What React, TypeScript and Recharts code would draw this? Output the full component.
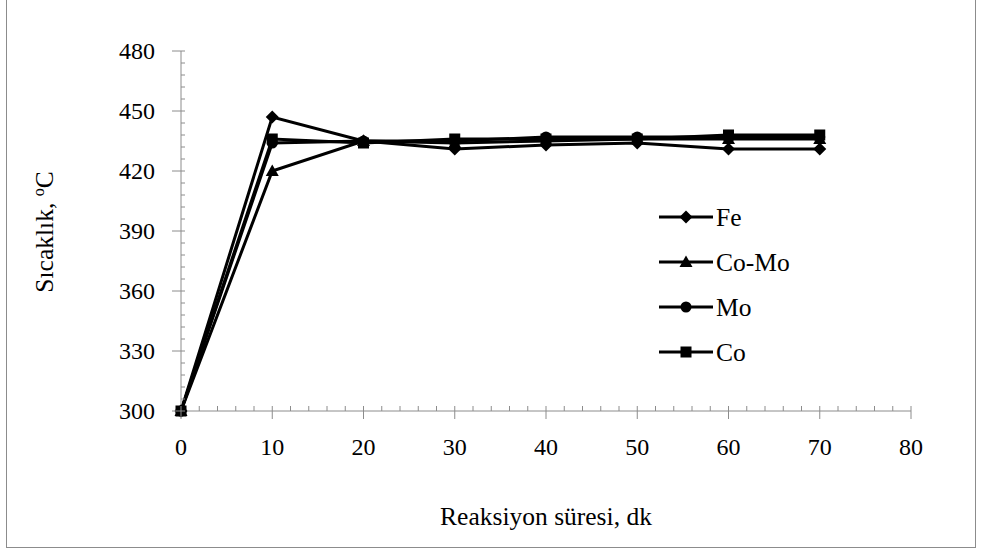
import React from 'react'
import { LineChart, Line, XAxis, YAxis } from 'recharts'

const minutes = [0, 10, 20, 30, 40, 50, 60, 70]
const fe = [300, 447, 435, 431, 433, 434, 431, 431]
const coMo = [300, 420, 435, 434, 435, 436, 436, 436]
const mo = [300, 434, 435, 435, 437, 437, 437, 437]
const co = [300, 436, 434, 436, 436, 436, 438, 438]

const xTicks = [0, 2, 4, 6, 8, 10, 12, 14, 16, 18, 20, 22, 24, 26, 28, 30, 32, 34, 36, 38, 40, 42, 44, 46, 48, 50, 52, 54, 56, 58, 60, 62, 64, 66, 68, 70, 72, 74, 76, 78, 80]
const yTicks = [300, 306, 312, 318, 324, 330, 336, 342, 348, 354, 360, 366, 372, 378, 384, 390, 396, 402, 408, 414, 420, 426, 432, 438, 444, 450, 456, 462, 468, 474, 480]

const data = minutes.map((m, i) => ({
  m,
  Fe: fe[i],
  'Co-Mo': coMo[i],
  Mo: mo[i],
  Co: co[i],
}))

const FONT = 'Liberation Serif, serif'
const FS = 24
const FS_TITLE = 25.5
const AXIS = '#8c8c8c'

const drawMarker = (name: string, cx: number, cy: number) => {
  if (name === 'Fe')
    return <path d={`M${cx},${cy - 6.5} L${cx + 6.5},${cy} L${cx},${cy + 6.5} L${cx - 6.5},${cy} Z`} fill='#000' />
  if (name === 'Co-Mo')
    return <path d={`M${cx},${cy - 6.5} L${cx + 6.5},${cy + 5} L${cx - 6.5},${cy + 5} Z`} fill='#000' />
  if (name === 'Mo') return <circle cx={cx} cy={cy} r={5.5} fill='#000' />
  return <rect x={cx - 5.5} y={cy - 5.5} width={11} height={11} fill='#000' />
}

const makeDot = (name: string) => (props: any) => {
  const { cx, cy, index } = props
  if (cx == null || cy == null) return <g key={`${name}-${index}`} />
  return <g key={`${name}-${index}`}>{drawMarker(name, cx, cy)}</g>
}

const XTick = (props: any) => {
  const { x, y, payload } = props
  const major = payload.value % 10 === 0
  return (
    <g>
      <line x1={x} x2={x} y1={y - 5} y2={major ? y + 8 : y} stroke={AXIS} strokeWidth={1} />
      {major && (
        <text x={x} y={y + 44} textAnchor='middle' fontFamily={FONT} fontSize={FS} fill='#000'>
          {payload.value}
        </text>
      )}
    </g>
  )
}

const YTick = (props: any) => {
  const { x, y, payload } = props
  const major = (payload.value - 300) % 30 === 0
  return (
    <g>
      <line x1={major ? x - 9 : x} x2={x + 4} y1={y} y2={y} stroke={AXIS} strokeWidth={1} />
      {major && (
        <text x={x - 26} y={y + 8} textAnchor='end' fontFamily={FONT} fontSize={FS} fill='#000'>
          {payload.value}
        </text>
      )}
    </g>
  )
}

const series = ['Fe', 'Co-Mo', 'Mo', 'Co']

const LegendBox = () => (
  <svg width={180} height={200} style={{ position: 'absolute', left: 657, top: 195, overflow: 'visible' }}>
    {series.map((s, i) => {
      const cy = 22 + i * 45
      return (
        <g key={s}>
          <line x1={2} x2={56} y1={cy} y2={cy} stroke='#000' strokeWidth={3} />
          {drawMarker(s, 29, cy)}
          <text x={59} y={cy + 8.5} fontFamily={FONT} fontSize={FS_TITLE} fill='#000'>
            {s}
          </text>
        </g>
      )
    })}
  </svg>
)

const App = () => {
  return (
    <div style={{ position: 'absolute', left: 0, top: 0, width: 985, height: 553, background: '#fff', fontFamily: FONT }}>
      <div
        style={{
          position: 'absolute',
          left: 6,
          top: -1,
          width: 970,
          height: 549,
          border: '1px solid #8c8c8c',
          boxSizing: 'border-box',
        }}
      />
      <div style={{ position: 'absolute', left: 0, top: 0 }}>
        <LineChart
          width={985}
          height={553}
          data={data}
          margin={{ top: 51, right: 74, bottom: 112, left: 121 }}
        >
          <XAxis
            dataKey='m'
            type='number'
            domain={[0, 80]}
            ticks={xTicks}
            interval={0}
            height={30}
            tickSize={0}
            tickMargin={0}
            tickLine={false}
            axisLine={{ stroke: AXIS, strokeWidth: 1 }}
            tick={<XTick />}
          />
          <YAxis
            type='number'
            domain={[300, 480]}
            ticks={yTicks}
            interval={0}
            width={60}
            tickSize={0}
            tickMargin={0}
            tickLine={false}
            axisLine={{ stroke: AXIS, strokeWidth: 1 }}
            tick={<YTick />}
          />
          {series.map((s) => (
            <Line
              key={s}
              dataKey={s}
              stroke='#000'
              strokeWidth={3}
              dot={makeDot(s)}
              activeDot={false}
              isAnimationActive={false}
              type='linear'
            />
          ))}
        </LineChart>
      </div>
      <LegendBox />
      <div
        style={{
          position: 'absolute',
          left: 45,
          top: 232,
          transform: 'translate(-50%, -50%) rotate(-90deg)',
          fontSize: FS_TITLE,
          whiteSpace: 'nowrap',
        }}
      >
        Sıcaklık, <sup style={{ fontSize: 16 }}>o</sup>C
      </div>
      <div
        style={{
          position: 'absolute',
          left: 546,
          top: 517,
          transform: 'translate(-50%, -50%)',
          fontSize: FS_TITLE,
          whiteSpace: 'nowrap',
        }}
      >
        Reaksiyon süresi, dk
      </div>
    </div>
  )
}

export default App
